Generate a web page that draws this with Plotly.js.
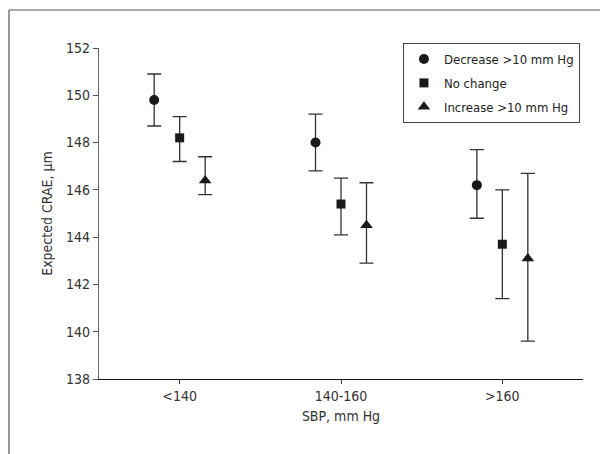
<!DOCTYPE html>
<html>
<head>
<meta charset="utf-8">
<script src="https://cdn.plot.ly/plotly-3.0.1.min.js"></script>
<style>html,body{margin:0;padding:0;background:#fff}#chart{width:600px;height:454px}</style>
</head>
<body>
<div id="chart"></div>
<script>
var categories = ["<140", "140-160", ">160"];
var seriesNames = ["Decrease >10 mm Hg", "No change", "Increase >10 mm Hg"];
var decreaseMean = [149.8, 148.0, 146.2];
var decreaseUpper = [150.9, 149.2, 147.7];
var decreaseLower = [148.7, 146.8, 144.8];
var noChangeMean = [148.2, 145.4, 143.7];
var noChangeUpper = [149.1, 146.5, 146.0];
var noChangeLower = [147.2, 144.1, 141.4];
var increaseMean = [146.4, 144.5, 143.1];
var increaseUpper = [147.4, 146.3, 146.7];
var increaseLower = [145.8, 142.9, 139.6];
var yTicks = [138, 140, 142, 144, 146, 148, 150, 152];

var offsets = [-0.158, 0, 0.158];
var symbols = ["circle", "square", "triangle-up"];
var sizes = [10, 9, 11];
var means = [decreaseMean, noChangeMean, increaseMean];
var uppers = [decreaseUpper, noChangeUpper, increaseUpper];
var lowers = [decreaseLower, noChangeLower, increaseLower];
var FONT = "'DejaVu Sans Condensed', 'Liberation Sans Narrow', Arial, sans-serif";

var traces = means.map(function (m, s) {
  return {
    type: "scatter",
    mode: "markers",
    name: seriesNames[s],
    legendgroup: "g" + s,
    x: categories.map(function (c, i) { return i + offsets[s]; }),
    y: m,
    error_y: {
      type: "data",
      symmetric: false,
      array: uppers[s].map(function (u, i) { return u - m[i]; }),
      arrayminus: lowers[s].map(function (l, i) { return m[i] - l; }),
      color: "#333",
      thickness: 1.3,
      width: 7
    },
    marker: { symbol: symbols[s], size: sizes[s], color: "#1a1a1a" }
  };
});

var frameColor = "#555";
var layout = {
  width: 600, height: 454,
  margin: { l: 99, r: 17, t: 48, b: 75, pad: 0 },
  paper_bgcolor: "#fff", plot_bgcolor: "#fff",
  font: { family: FONT, size: 14, color: "#333" },
  showlegend: true,
  legend: {
    x: 0.628, y: 1.015, xanchor: "left", yanchor: "top",
    bordercolor: "#444", borderwidth: 1, bgcolor: "#fff",
    font: { family: FONT, size: 13, color: "#222" },
    traceorder: "grouped", tracegroupgap: 4,
    itemwidth: 30
  },
  xaxis: {
    range: [-0.5, 2.5],
    tickmode: "array",
    tickvals: [0, 1, 2],
    ticktext: categories,
    ticks: "outside", ticklen: 4, tickcolor: "#333",
    showline: true, linecolor: "#111", linewidth: 1.2,
    showgrid: false, zeroline: false,
    tickfont: { family: FONT, size: 14, color: "#333" },
    title: { text: "SBP, mm Hg", font: { family: FONT, size: 14, color: "#333" }, standoff: 8 }
  },
  yaxis: {
    range: [138, 152],
    tickmode: "array",
    tickvals: yTicks,
    ticks: "outside", ticklen: 5, tickcolor: "#555",
    showline: true, linecolor: "#666", linewidth: 1.2,
    showgrid: false, zeroline: false,
    tickfont: { family: FONT, size: 14, color: "#333" },
    title: { text: "Expected CRAE, µm", font: { family: FONT, size: 14, color: "#333" }, standoff: 10 }
  },
  shapes: [
    { type: "line", xref: "paper", yref: "paper", x0: (9 - 99) / 484, x1: (600 - 99) / 484, y0: (379 - 10) / 331, y1: (379 - 10) / 331, line: { color: frameColor, width: 1.2 } },
    { type: "line", xref: "paper", yref: "paper", x0: (9 - 99) / 484, x1: (9 - 99) / 484, y0: (379 - 10) / 331, y1: (379 - 454) / 331, line: { color: frameColor, width: 1.2 } }
  ]
};

Plotly.newPlot("chart", traces, layout, { staticPlot: true, displayModeBar: false });
</script>
</body>
</html>
